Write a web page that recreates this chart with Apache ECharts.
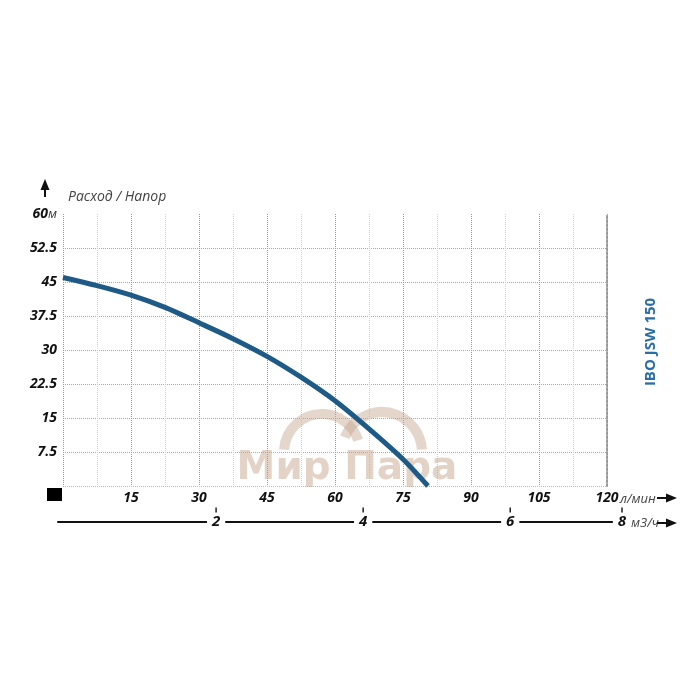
<!DOCTYPE html>
<html>
<head>
<meta charset="utf-8">
<script src="https://cdn.jsdelivr.net/npm/echarts@6/dist/echarts.min.js"></script>
<style>html,body{margin:0;padding:0;background:#fff}#c{width:700px;height:700px}</style>
</head>
<body>
<div id="c"></div>
<script>
// Flow (l/min) and head (m)
const flowLpm = [0, 7.5, 15, 22.5, 30, 37.5, 45, 52.5, 60, 67.5, 75, 80.5];
const headM   = [46, 44.2, 42.1, 39.4, 36.0, 32.5, 28.6, 24.0, 18.8, 12.6, 5.9, 0];
// Tick labels
const lpmTicks = [15, 30, 45, 60, 75, 90, 105, 120];
const headTicks = [7.5, 15, 22.5, 30, 37.5, 45, 52.5, 60];
const m3hTickPos = [2, 4, 6, 7.52];
const m3hTickLabels = ['2', '4', '6', '8'];

const chart = echarts.init(document.getElementById('c'));
const labelFont = { fontFamily: 'Open Sans', fontWeight: 'bold', fontStyle: 'italic', fontSize: 14, color: '#111' };

const option = {
  animation: false,
  backgroundColor: '#fff',
  grid: [
    { left: 63, right: 93, top: 214, bottom: 214 },
    { left: 58, right: 78, top: 214, bottom: 214 }
  ],
  xAxis: [
    {
      type: 'value', gridIndex: 0, min: 0, max: 120, interval: 7.5,
      axisLine: { show: false }, axisTick: { show: false },
      axisLabel: Object.assign({
        margin: 5,
        formatter: v => lpmTicks.indexOf(v) >= 0 ? String(v) : ''
      }, labelFont),
      splitLine: { show: true, lineStyle: { type: 'dotted', color: ['#999', '#cfcfcf'], width: 1 } }
    },
    {
      type: 'value', gridIndex: 1, min: -0.15, max: 7.52, offset: 36, position: 'bottom',
      axisLine: { show: true, onZero: false, lineStyle: { color: '#111', width: 2 } },
      axisTick: { show: false },
      splitLine: { show: false },
      axisLabel: {
        customValues: m3hTickPos,
        margin: -15,
        showMinLabel: true, showMaxLabel: true, hideOverlap: false,
        formatter: v => {
          const i = m3hTickPos.indexOf(v);
          return i >= 0 ? '{t|}\n{n|' + m3hTickLabels[i] + '}' : '';
        },
        rich: {
          t: { width: 1.5, height: 5, backgroundColor: '#222', lineHeight: 6 },
          n: { backgroundColor: '#fff', padding: [0, 5], lineHeight: 18, fontSize: 15,
               fontFamily: 'Open Sans', fontWeight: 'bold', fontStyle: 'italic', color: '#111' }
        }
      }
    }
  ],
  yAxis: [
    {
      type: 'value', gridIndex: 0, min: 0, max: 60, interval: 7.5,
      axisLine: { show: false }, axisTick: { show: false },
      axisLabel: Object.assign({
        margin: 6,
        formatter: v => v === 60 ? '60{u|м}' : (headTicks.indexOf(v) >= 0 ? String(v) : ''),
        rich: { u: { fontFamily: 'Open Sans', fontStyle: 'italic', fontWeight: 'normal', fontSize: 13, color: '#333' } }
      }, labelFont),
      splitLine: { show: true, lineStyle: { type: 'dotted', color: ['#bbb','#aaa','#aaa','#aaa','#aaa','#aaa','#aaa','#aaa','rgba(0,0,0,0)'], width: 1 } }
    },
    {
      type: 'value', gridIndex: 0, min: 0, max: 60, position: 'right',
      axisLine: { show: true, onZero: false, lineStyle: { type: 'dotted', color: '#999', width: 2 } },
      axisTick: { show: false }, axisLabel: { show: false }, splitLine: { show: false }
    },
    { type: 'value', gridIndex: 1, show: false, min: 0, max: 60 }
  ],
  series: [{
    type: 'line', xAxisIndex: 0, yAxisIndex: 0,
    data: flowLpm.map((x, i) => [x, headM[i]]),
    smooth: 0.3, symbol: 'none', z: 5,
    lineStyle: { color: '#1e5a86', width: 5 }
  }],
  graphic: [
    // watermark
    { type: 'arc', z: 1, silent: true, shape: { cx: 322, cy: 452, r: 38, startAngle: Math.PI * 1.02, endAngle: Math.PI * 1.9 },
      style: { stroke: 'rgba(195,165,140,0.45)', lineWidth: 10, fill: null } },
    { type: 'arc', z: 1, silent: true, shape: { cx: 382, cy: 452, r: 40, startAngle: Math.PI * 1.12, endAngle: Math.PI * 1.98 },
      style: { stroke: 'rgba(195,165,140,0.45)', lineWidth: 10, fill: null } },
    { type: 'text', z: 1, silent: true, x: 347, y: 488,
      style: { text: 'Мир Пара', font: 'bold 39px "DejaVu Sans"', fill: 'rgba(200,168,142,0.5)', textAlign: 'center', textVerticalAlign: 'bottom' } },
    // origin square
    { type: 'rect', shape: { x: 47, y: 488, width: 15, height: 13 }, style: { fill: '#000' } },
    // y arrow
    { type: 'polygon', shape: { points: [[45, 179], [40.5, 190], [49.5, 190]] }, style: { fill: '#111' } },
    { type: 'line', shape: { x1: 45, y1: 188, x2: 45, y2: 197 }, style: { stroke: '#111', lineWidth: 2 } },
    // y title
    { type: 'text', x: 68, y: 197, style: { text: 'Расход / Напор', font: 'italic 14px "Open Sans"', fill: '#444', textVerticalAlign: 'middle' } },
    // x units and arrows
    { type: 'text', x: 620, y: 499, style: { text: 'л/мин', font: 'italic 13px "Open Sans"', fill: '#444', textVerticalAlign: 'middle' } },
    { type: 'polygon', shape: { points: [[677, 498], [666, 493.5], [666, 502.5]] }, style: { fill: '#111' } },
    { type: 'line', shape: { x1: 657, y1: 498, x2: 668, y2: 498 }, style: { stroke: '#111', lineWidth: 2 } },
    { type: 'text', x: 631, y: 523, style: { text: 'м3/ч', font: 'italic 13px "Open Sans"', fill: '#444', textVerticalAlign: 'middle' } },
    { type: 'polygon', shape: { points: [[677, 523], [666, 518.5], [666, 527.5]] }, style: { fill: '#111' } },
    { type: 'line', shape: { x1: 657, y1: 523, x2: 668, y2: 523 }, style: { stroke: '#111', lineWidth: 2 } },
    // model name
    { type: 'text', x: 651, y: 342, rotation: Math.PI / 2,
      style: { text: 'IBO JSW 150', font: 'bold 15px "Open Sans"', fill: '#2a6ea8', textAlign: 'center', textVerticalAlign: 'middle' } }
  ]
};
chart.setOption(option);
</script>
</body>
</html>
